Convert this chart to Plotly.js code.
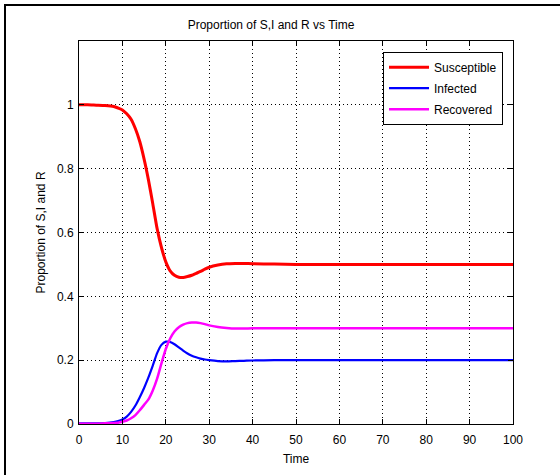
<!DOCTYPE html>
<html>
<head>
<meta charset="utf-8">
<script src="https://cdn.plot.ly/plotly-3.0.1.min.js"></script>
<style>
  html, body { margin: 0; padding: 0; background: #fff; }
  #chart { position: absolute; left: 0; top: 0; width: 560px; height: 475px; }
  #frame { position: absolute; left: 4px; top: 4px; width: 600px; height: 600px;
           border-left: 2px solid #000; border-top: 2px solid #000; pointer-events: none; }
</style>
</head>
<body>
<div id="chart"></div>
<div id="frame"></div>
<script>
var time = [0, 2, 4, 6, 8, 9, 10, 11, 12, 13, 14, 15, 16, 17, 18, 19, 20, 21, 22, 23, 24, 25, 26, 27, 28, 29, 30, 32, 34, 36, 38, 40, 45, 50, 60, 70, 80, 90, 100];
var susceptible = [1.0, 1.0, 0.999, 0.998, 0.995, 0.99, 0.984, 0.972, 0.955, 0.925, 0.885, 0.83, 0.765, 0.69, 0.612, 0.553, 0.508, 0.48, 0.466, 0.46, 0.459, 0.462, 0.466, 0.472, 0.478, 0.485, 0.491, 0.498, 0.502, 0.503, 0.503, 0.502, 0.501, 0.5, 0.5, 0.5, 0.5, 0.5, 0.5];
var infected = [0.002, 0.002, 0.002, 0.003, 0.006, 0.009, 0.014, 0.023, 0.038, 0.058, 0.084, 0.113, 0.146, 0.183, 0.222, 0.248, 0.258, 0.257, 0.25, 0.24, 0.23, 0.221, 0.214, 0.209, 0.205, 0.202, 0.2, 0.197, 0.196, 0.197, 0.198, 0.199, 0.2, 0.2, 0.2, 0.2, 0.2, 0.2, 0.2];
var recovered = [0.001, 0.001, 0.001, 0.002, 0.003, 0.004, 0.007, 0.011, 0.018, 0.028, 0.043, 0.06, 0.077, 0.105, 0.142, 0.19, 0.235, 0.268, 0.29, 0.303, 0.311, 0.316, 0.318, 0.318, 0.316, 0.313, 0.309, 0.304, 0.301, 0.299, 0.299, 0.3, 0.3, 0.3, 0.3, 0.3, 0.3, 0.3, 0.3];
var seriesNames = ['Susceptible', 'Infected', 'Recovered'];
var xTicks = [0, 10, 20, 30, 40, 50, 60, 70, 80, 90, 100];
var yTicks = [0, 0.2, 0.4, 0.6, 0.8, 1];
var yTickLabels = ['0', '0.2', '0.4', '0.6', '0.8', '1'];

var font = {family: 'Liberation Sans, Arial, sans-serif', size: 12, color: '#000'};

var traces = [
  {x: time, y: susceptible, name: seriesNames[0], mode: 'lines', legendgroup: 'a',
   line: {color: '#ff0000', width: 3, shape: 'spline', smoothing: 0.6}},
  {x: time, y: infected, name: seriesNames[1], mode: 'lines', legendgroup: 'b',
   line: {color: '#0000ff', width: 2.2, shape: 'spline', smoothing: 0.6}},
  {x: time, y: recovered, name: seriesNames[2], mode: 'lines', legendgroup: 'c',
   line: {color: '#ff00ff', width: 2.5, shape: 'spline', smoothing: 0.6}}
];

var axisCommon = {
  showline: true, linecolor: '#000', linewidth: 1, mirror: 'ticks',
  ticks: 'inside', ticklen: 5, tickcolor: '#000', tickwidth: 1,
  showgrid: true, gridcolor: '#000', gridwidth: 1, griddash: '1px,3px',
  zeroline: false, tickfont: font
};

var layout = {
  width: 560, height: 475,
  margin: {l: 79, r: 47, t: 41, b: 51},
  paper_bgcolor: '#fff', plot_bgcolor: '#fff',
  font: font,
  title: {text: 'Proportion of S,I and R vs Time', font: font,
          xref: 'container', x: 271 / 560, xanchor: 'center',
          yref: 'container', y: 1 - 25 / 475, yanchor: 'middle'},
  xaxis: Object.assign({}, axisCommon, {
    range: [0, 100], tickvals: xTicks, ticktext: xTicks.map(String),
    ticklabelstandoff: 5,
    title: {text: 'Time', font: font, standoff: 8}
  }),
  yaxis: Object.assign({}, axisCommon, {
    range: [0, 1.2], tickvals: yTicks, ticktext: yTickLabels,
    ticklabelstandoff: 2,
    title: {text: 'Proportion of S,I and R', font: font, standoff: 8}
  }),
  showlegend: true,
  legend: {x: 0.977, xanchor: 'right', y: 0.972, yanchor: 'top',
           bgcolor: '#fff', bordercolor: '#000', borderwidth: 1,
           font: font, tracegroupgap: 2, itemwidth: 40}
};

Plotly.newPlot('chart', traces, layout, {displayModeBar: false, staticPlot: true});
</script>
</body>
</html>
